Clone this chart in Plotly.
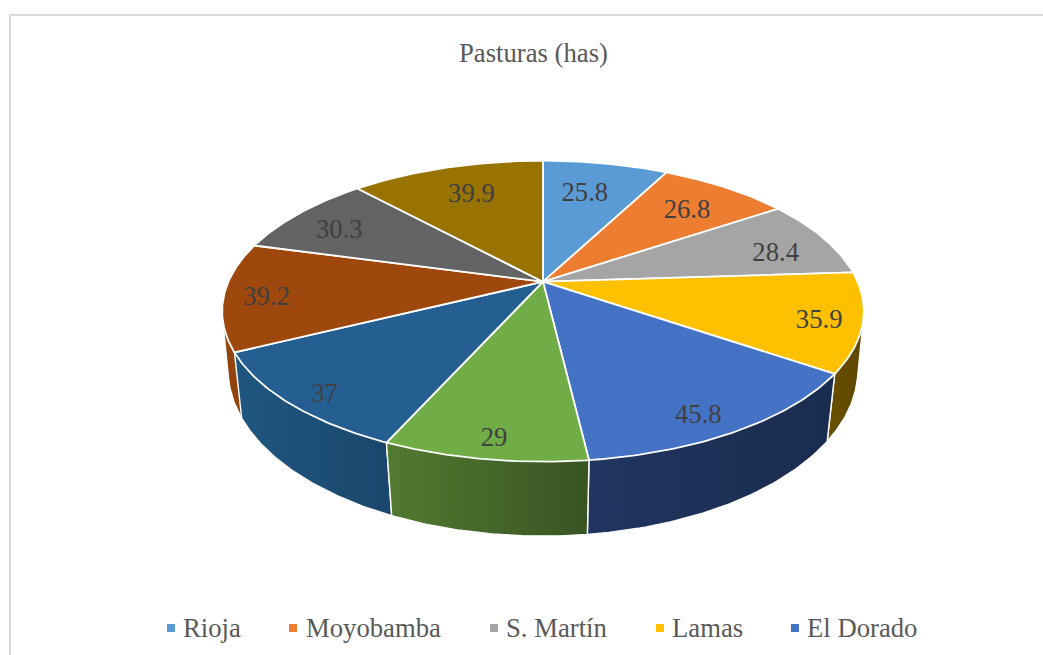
import numpy as np
import plotly.graph_objects as go

# ---- data ----
categories = ["Rioja", "Moyobamba", "S. Martín", "Lamas", "El Dorado",
              "Cat. 6", "Cat. 7", "Cat. 8", "Cat. 9", "Cat. 10"]
values = [25.8, 26.8, 28.4, 35.9, 45.8, 29, 37, 39.2, 30.3, 39.9]
legend_names = ["Rioja", "Moyobamba", "S. Martín", "Lamas", "El Dorado"]

# ---- styles ----
top_colors = ["#5B9BD5", "#ED7D31", "#A5A5A5", "#FFC000", "#4472C4",
              "#70AD47", "#255E91", "#9E480E", "#636363", "#997300"]
wall_left = ["#3A6A96", "#A6571F", "#737373", "#6A5000", "#203560",
             "#527A30", "#1F5780", "#93450D", "#454545", "#6B5000"]
wall_right = ["#3A6A96", "#A6571F", "#737373", "#5E4600", "#1A2C4E",
              "#395424", "#1B466C", "#8C4109", "#454545", "#6B5000"]
label_nudge = [(-10, 10), (-6, 7), (6, 8), (23, 8), (5, 20),
               (-4, 22), (-22, 19), (-22, 5), (-5, 5), (8, 8)]
legend_marker_x = [171, 293, 494, 660, 795]
legend_text_x = [180.5, 303.5, 503.5, 669.5, 804.5]
FONT = "Liberation Serif"
SIZE = 26.7

# ---- projection of the tilted disc (top and bottom rims) ----
CX, CY = 543.0, 281.7
A, B, K = 314.6, 144.7, 0.196
A2, B2, K2, Y2 = 309.8, 161.0, 0.179, 340.0


def top_xy(theta, r=1.0):
    s, c = np.sin(theta) * r, np.cos(theta) * r
    w = 1 + K * c
    return CX + A * s / w, CY - B * c / w


def bottom_xy(theta):
    s, c = np.sin(theta), np.cos(theta)
    w = 1 + K2 * c
    return CX + A2 * s / w, Y2 - B2 * c / w


def convex_hull(x, y):
    pts = sorted(set(zip(x.tolist(), y.tolist())))

    def half(points):
        out = []
        for p in points:
            while len(out) > 1 and ((out[-1][0] - out[-2][0]) * (p[1] - out[-2][1])
                                    - (out[-1][1] - out[-2][1]) * (p[0] - out[-2][0])) <= 0:
                out.pop()
            out.append(p)
        return out[:-1]

    ring = half(pts) + half(pts[::-1])
    ring.append(ring[0])
    return [p[0] for p in ring], [p[1] for p in ring]


edges = np.concatenate([[0], np.cumsum(values)]) / np.sum(values) * 2 * np.pi
fig = go.Figure()

# side walls, back to front
order = sorted(range(len(values)),
               key=lambda i: -abs((edges[i] + edges[i + 1]) / 2 - np.pi))
for i in order:
    t = np.linspace(edges[i], edges[i + 1], 60)
    x1, y1 = top_xy(t)
    x2, y2 = bottom_xy(t)
    hx, hy = convex_hull(np.r_[x1, x2], np.r_[y1, y2])
    fig.add_trace(go.Scatter(
        x=hx, y=hy,
        mode="lines", fill="toself", line=dict(color="white", width=1.4),
        fillgradient=dict(type="horizontal",
                          colorscale=[[0, wall_left[i]], [1, wall_right[i]]]),
        hoverinfo="skip", showlegend=False))

# top faces
for i, (name, val) in enumerate(zip(categories, values)):
    t = np.linspace(edges[i], edges[i + 1], 60)
    x1, y1 = top_xy(t)
    fig.add_trace(go.Scatter(
        x=np.r_[CX, x1, CX], y=np.r_[CY, y1, CY],
        mode="lines", fill="toself", fillcolor=top_colors[i],
        line=dict(color="white", width=1.8), name=name,
        hovertext=f"{name}: {val}", hoverinfo="text", showlegend=False))

# data labels
mid = (edges[:-1] + edges[1:]) / 2
lx, ly = top_xy(mid, 0.8)
fig.add_trace(go.Scatter(
    x=lx + np.array([n[0] for n in label_nudge]),
    y=ly + np.array([n[1] for n in label_nudge]),
    mode="text", text=[str(v) for v in values], textposition="middle center",
    textfont=dict(family=FONT, size=SIZE, color="#404040"),
    hoverinfo="skip", showlegend=False))

# legend
for i, name in enumerate(legend_names):
    fig.add_trace(go.Scatter(
        x=[legend_marker_x[i]], y=[628], mode="markers",
        marker=dict(symbol="square", size=8, color=top_colors[i]),
        hoverinfo="skip", showlegend=False))
    fig.add_annotation(x=legend_text_x[i], y=628, text=name, showarrow=False,
                       xanchor="left", yanchor="middle",
                       font=dict(family=FONT, size=SIZE, color="#595959"))

fig.update_layout(
    width=1043, height=655, margin=dict(l=0, r=0, t=0, b=0),
    paper_bgcolor="white", plot_bgcolor="white", showlegend=False,
    title=dict(text="Pasturas (has)", x=533.5 / 1043, xanchor="center",
               y=1 - 53 / 655, yanchor="middle",
               font=dict(family=FONT, size=SIZE, color="#595959")),
    xaxis=dict(range=[0, 1043], visible=False, fixedrange=True),
    yaxis=dict(range=[655, 0], visible=False, fixedrange=True),
    shapes=[dict(type="rect", x0=10, y0=15, x1=1060, y1=680,
                 line=dict(color="#D9D9D9", width=2), layer="below")],
)
fig.write_html("out.html", config={"displayModeBar": False},
               post_script="document.body.style.margin='0';document.body.style.overflow='hidden';")
